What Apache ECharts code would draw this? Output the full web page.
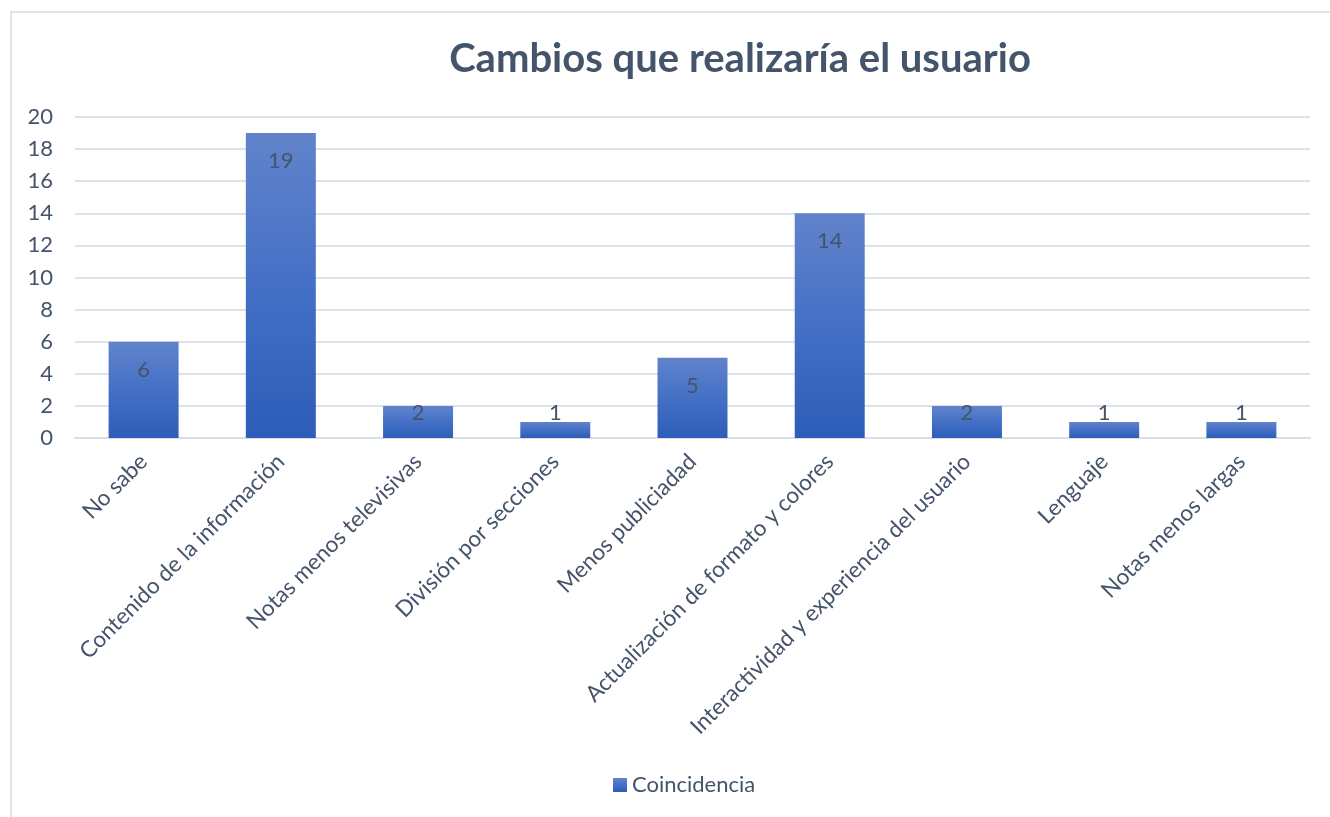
<!DOCTYPE html>
<html>
<head>
<meta charset="utf-8">
<script src="https://cdn.jsdelivr.net/npm/echarts@6/dist/echarts.min.js"></script>
<style>
  html, body { margin: 0; padding: 0; background: #fff; }
  #chart { width: 1330px; height: 817px; }
</style>
</head>
<body>
<div id="chart"></div>
<script>
// Cambios que realizaría el usuario - bar chart
const categories = [
  'No sabe',
  'Contenido de la información',
  'Notas menos televisivas',
  'División por secciones',
  'Menos publiciadad',
  'Actualización de formato y colores',
  'Interactividad y experiencia del usuario',
  'Lenguaje',
  'Notas menos largas'
];
const coincidencia = [6, 19, 2, 1, 5, 14, 2, 1, 1];
const yTicks = { min: 0, max: 20, interval: 2 };

const textColor = '#44546a';
const fontFamily = 'Lato, "Open Sans", sans-serif';

// Excel puts "inside end" labels low on very short bars
const barData = coincidencia.map(v => ({
  value: v,
  label: v <= 2 ? { position: 'insideBottom', distance: 12 } : {}
}));

const chart = echarts.init(document.getElementById('chart'));
chart.setOption({
  animation: false,
  backgroundColor: '#fff',
  textStyle: { fontFamily: fontFamily },
  graphic: [{
    type: 'rect',
    shape: { x: 11, y: 12, width: 1400, height: 900 },
    style: { fill: 'none', stroke: '#dfe3ec', lineWidth: 2 },
    silent: true
  }],
  title: {
    text: 'Cambios que realizaría el usuario',
    left: 735,
    top: 34,
    textAlign: 'center',
    textStyle: { color: textColor, fontSize: 40, fontWeight: 'bold', fontFamily: fontFamily }
  },
  legend: {
    bottom: 16,
    left: 608,
    itemWidth: 14,
    itemHeight: 14,
    itemGap: 6,
    icon: 'rect',
    textStyle: { color: textColor, fontSize: 22, fontFamily: fontFamily }
  },
  grid: { left: 75, right: 20, top: 117, bottom: 379, containLabel: false },
  xAxis: {
    type: 'category',
    data: categories,
    axisLine: { lineStyle: { color: '#d9dde6', width: 2 } },
    axisTick: { show: false },
    axisLabel: {
      rotate: 45,
      interval: 0,
      margin: 20,
      color: textColor,
      fontSize: 22.5,
      fontFamily: fontFamily
    }
  },
  yAxis: {
    type: 'value',
    min: yTicks.min,
    max: yTicks.max,
    interval: yTicks.interval,
    axisLine: { show: false },
    axisTick: { show: false },
    axisLabel: { color: textColor, fontSize: 22, margin: 22, fontFamily: fontFamily },
    splitLine: { lineStyle: { color: '#dde1ea', width: 2 } }
  },
  series: [{
    name: 'Coincidencia',
    type: 'bar',
    data: barData,
    barCategoryGap: '49%',
    itemStyle: {
      color: new echarts.graphic.LinearGradient(0, 0, 0, 1, [
        { offset: 0, color: '#6283cb' },
        { offset: 0.5, color: '#4470c6' },
        { offset: 1, color: '#2d5db8' }
      ])
    },
    label: {
      show: true,
      position: 'insideTop',
      distance: 15,
      color: textColor,
      fontSize: 22,
      lineHeight: 26,
      fontFamily: fontFamily
    }
  }]
});
</script>
</body>
</html>
